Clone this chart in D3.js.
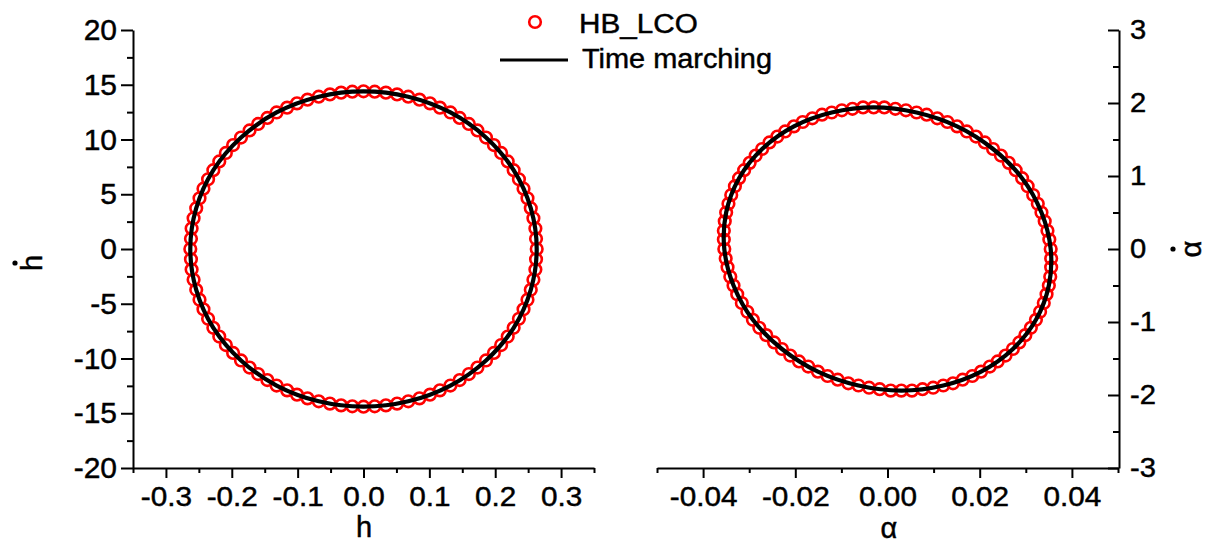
<!DOCTYPE html>
<html>
<head>
<meta charset="utf-8">
<script src="https://cdn.jsdelivr.net/npm/d3@7"></script>
<style>
  body { margin: 0; background: #fff; }
  svg text { font-family: "Liberation Sans", Arial, sans-serif; fill: #000; stroke: #000; stroke-width: 0.45px; }
</style>
</head>
<body>
<div id="chart"></div>
<script>

// HB_LCO points, plunge (h, h-dot)
var hbH = [0.263,0.262,0.261,0.258,0.254,0.249,0.243,0.236,0.228,0.219,0.209,0.198,0.186,0.173,0.160,0.146,0.132,0.116,0.101,0.085,0.068,0.051,0.034,0.017,0.000,
  -0.017,-0.034,-0.051,-0.068,-0.085,-0.101,-0.116,-0.132,-0.146,-0.160,-0.173,-0.186,-0.198,-0.209,-0.219,-0.228,-0.236,-0.243,-0.249,-0.254,-0.258,-0.261,-0.262,-0.263,
  -0.262,-0.261,-0.258,-0.254,-0.249,-0.243,-0.236,-0.228,-0.219,-0.209,-0.198,-0.186,-0.173,-0.160,-0.146,-0.132,-0.116,-0.101,-0.085,-0.068,-0.051,-0.034,-0.017,0.000,
  0.017,0.034,0.051,0.068,0.085,0.101,0.116,0.132,0.146,0.160,0.173,0.186,0.198,0.209,0.219,0.228,0.236,0.243,0.249,0.254,0.258,0.261,0.262];
var hbHdot = [0,0.94,1.88,2.81,3.73,4.63,5.51,6.37,7.20,8.00,8.77,9.49,10.18,10.83,11.42,11.97,12.47,12.91,13.30,13.64,13.91,14.12,14.28,14.37,14.40,
  14.37,14.28,14.12,13.91,13.64,13.30,12.91,12.47,11.97,11.42,10.83,10.18,9.49,8.77,8.00,7.20,6.37,5.51,4.63,3.73,2.81,1.88,0.94,0,
  -0.94,-1.88,-2.81,-3.73,-4.63,-5.51,-6.37,-7.20,-8.00,-8.77,-9.49,-10.18,-10.83,-11.42,-11.97,-12.47,-12.91,-13.30,-13.64,-13.91,-14.12,-14.28,-14.37,-14.40,
  -14.37,-14.28,-14.12,-13.91,-13.64,-13.30,-12.91,-12.47,-11.97,-11.42,-10.83,-10.18,-9.49,-8.77,-8.00,-7.20,-6.37,-5.51,-4.63,-3.73,-2.81,-1.88,-0.94];

// HB_LCO points, pitch (alpha, alpha-dot)
var hbA = [0.0354,0.0351,0.0347,0.0341,0.0334,0.0326,0.0316,0.0304,0.0292,0.0278,0.0263,0.0246,0.0229,0.0211,0.0192,0.0172,0.0151,0.0130,0.0108,0.0085,0.0063,0.0040,0.0017,-0.0007,-0.0030,
  -0.0053,-0.0076,-0.0099,-0.0121,-0.0142,-0.0163,-0.0184,-0.0203,-0.0222,-0.0239,-0.0256,-0.0272,-0.0286,-0.0299,-0.0311,-0.0322,-0.0331,-0.0339,-0.0345,-0.0350,-0.0353,-0.0355,-0.0355,-0.0354,
  -0.0351,-0.0347,-0.0341,-0.0334,-0.0326,-0.0316,-0.0304,-0.0292,-0.0278,-0.0263,-0.0246,-0.0229,-0.0211,-0.0192,-0.0172,-0.0151,-0.0130,-0.0108,-0.0085,-0.0063,-0.0040,-0.0017,0.0007,0.0030,
  0.0053,0.0076,0.0099,0.0121,0.0142,0.0163,0.0184,0.0203,0.0222,0.0239,0.0256,0.0272,0.0286,0.0299,0.0311,0.0322,0.0331,0.0339,0.0345,0.0350,0.0353,0.0355,0.0355];
var hbAdot = [0,0.13,0.25,0.38,0.50,0.62,0.74,0.86,0.97,1.08,1.18,1.28,1.37,1.46,1.54,1.61,1.68,1.74,1.79,1.84,1.87,1.90,1.92,1.94,1.94,
  1.94,1.92,1.90,1.87,1.84,1.79,1.74,1.68,1.61,1.54,1.46,1.37,1.28,1.18,1.08,0.97,0.86,0.74,0.62,0.50,0.38,0.25,0.13,0,
  -0.13,-0.25,-0.38,-0.50,-0.62,-0.74,-0.86,-0.97,-1.08,-1.18,-1.28,-1.37,-1.46,-1.54,-1.61,-1.68,-1.74,-1.79,-1.84,-1.87,-1.90,-1.92,-1.94,-1.94,
  -1.94,-1.92,-1.90,-1.87,-1.84,-1.79,-1.74,-1.68,-1.61,-1.54,-1.46,-1.37,-1.28,-1.18,-1.08,-0.97,-0.86,-0.74,-0.62,-0.50,-0.38,-0.25,-0.13];

// Time marching trajectory
var tmH = [0.263,0.254,0.228,0.186,0.132,0.068,0.000,-0.068,-0.132,-0.186,-0.228,-0.254,-0.263,-0.254,-0.228,-0.186,-0.132,-0.068,0.000,0.068,0.132,0.186,0.228,0.254];
var tmHdot = [0,3.73,7.20,10.18,12.47,13.91,14.40,13.91,12.47,10.18,7.20,3.73,0,-3.73,-7.20,-10.18,-12.47,-13.91,-14.40,-13.91,-12.47,-10.18,-7.20,-3.73];
var tmA = [0.0354,0.0334,0.0292,0.0229,0.0151,0.0063,-0.0030,-0.0121,-0.0203,-0.0272,-0.0322,-0.0350,-0.0354,-0.0334,-0.0292,-0.0229,-0.0151,-0.0063,0.0030,0.0121,0.0203,0.0272,0.0322,0.0350];
var tmAdot = [0,0.50,0.97,1.37,1.68,1.87,1.94,1.87,1.68,1.37,0.97,0.50,0,-0.50,-0.97,-1.37,-1.68,-1.87,-1.94,-1.87,-1.68,-1.37,-0.97,-0.50];

// tick labels
var hTicks = [-0.3, -0.2, -0.1, 0, 0.1, 0.2, 0.3];
var hdotTicks = [-20, -15, -10, -5, 0, 5, 10, 15, 20];
var aTicks = [-0.04, -0.02, 0, 0.02, 0.04];
var adotTicks = [-3, -2, -1, 0, 1, 2, 3];

var svg = d3.select("#chart")
  .append("svg")
  .attr("width", 1214)
  .attr("height", 544);

var xH = d3.scaleLinear().domain([-0.35, 0.35]).range([133, 594]);
var yH = d3.scaleLinear().domain([-20, 20]).range([468, 30]);
var xA = d3.scaleLinear().domain([-0.05, 0.05]).range([657, 1118]);
var yA = d3.scaleLinear().domain([-3, 3]).range([468, 30]);

function styleAxis(g, size) {
  g.selectAll("path, line").attr("stroke", "#000").attr("stroke-width", 2);
  g.selectAll("text").style("font-size", size + "px").attr("fill", "#000");
}

function stretch(sel, k) {
  sel.each(function() {
    var w = this.getComputedTextLength();
    d3.select(this).attr("textLength", w * k).attr("lengthAdjust", "spacingAndGlyphs");
  });
}

function minor(axis, pos) {
  var g = svg.append("g").attr("transform", pos).call(axis.tickFormat("").tickSizeOuter(0));
  g.select(".domain").remove();
  g.selectAll("line").attr("stroke", "#000").attr("stroke-width", 2);
}

// left panel axes
var gyH = svg.append("g")
  .attr("transform", "translate(133,0)")
  .call(d3.axisLeft(yH).tickValues(hdotTicks).tickSize(12).tickSizeOuter(0).tickPadding(4).tickFormat(d => d));
styleAxis(gyH, 30);
minor(d3.axisLeft(yH).tickValues(d3.range(-17.5, 20, 5)).tickSize(6), "translate(133,0)");

var gxH = svg.append("g")
  .attr("transform", "translate(0,468)")
  .call(d3.axisBottom(xH).tickValues(hTicks).tickSize(10).tickSizeOuter(0).tickPadding(9).tickFormat(d => d.toFixed(1)));
styleAxis(gxH, 27);
stretch(gxH.selectAll("text"), 1.1);
minor(d3.axisBottom(xH).tickValues(d3.range(-0.35, 0.36, 0.1)).tickSize(5), "translate(0,468)");

// right panel axes
var gxA = svg.append("g")
  .attr("transform", "translate(0,468)")
  .call(d3.axisBottom(xA).tickValues(aTicks).tickSize(10).tickSizeOuter(0).tickPadding(9).tickFormat(d => d.toFixed(2)));
styleAxis(gxA, 27);
stretch(gxA.selectAll("text"), 1.1);
minor(d3.axisBottom(xA).tickValues(d3.range(-0.05, 0.051, 0.02)).tickSize(5), "translate(0,468)");

var gyA = svg.append("g")
  .attr("transform", "translate(1119,0)")
  .call(d3.axisRight(yA).tickValues(adotTicks).tickSize(-11).tickSizeOuter(0).tickPadding(11).tickFormat(d => d));
styleAxis(gyA, 27);
stretch(gyA.selectAll("text"), 1.08);
minor(d3.axisRight(yA).tickValues(d3.range(-2.5, 3, 1)).tickSize(-6), "translate(1119,0)");

// axis titles
svg.append("text").attr("x", 364).attr("y", 537).attr("text-anchor", "middle")
  .style("font-size", "29px").text("h");
svg.append("text").attr("x", 889).attr("y", 538).attr("text-anchor", "middle")
  .style("font-size", "29px").text("α");

svg.append("text").attr("transform", "translate(42,263) rotate(-90)").attr("text-anchor", "middle")
  .style("font-size", "29px").text("h");
svg.append("circle").attr("cx", 15).attr("cy", 263).attr("r", 2.6).attr("fill", "#000");

svg.append("text").attr("transform", "translate(1201,249) rotate(-90)").attr("text-anchor", "middle")
  .style("font-size", "29px").text("α");
svg.append("circle").attr("cx", 1173).attr("cy", 249).attr("r", 2.6).attr("fill", "#000");

// data
var hbLeft = hbH.map((d, i) => [d, hbHdot[i]]);
var hbRight = hbA.map((d, i) => [d, hbAdot[i]]);
var tmLeft = tmH.map((d, i) => [d, tmHdot[i]]);
var tmRight = tmA.map((d, i) => [d, tmAdot[i]]);

function drawPanel(hb, tm, x, y) {
  svg.append("g")
    .selectAll("circle")
    .data(hb)
    .enter()
    .append("circle")
    .attr("cx", d => x(d[0]))
    .attr("cy", d => y(d[1]))
    .attr("r", 5.8)
    .attr("fill", "none")
    .attr("stroke", "#ff0000")
    .attr("stroke-width", 2.6);

  var line = d3.line()
    .x(d => x(d[0]))
    .y(d => y(d[1]))
    .curve(d3.curveCardinalClosed);

  svg.append("path")
    .datum(tm)
    .attr("d", line)
    .attr("fill", "none")
    .attr("stroke", "#000")
    .attr("stroke-width", 4.2);
}

drawPanel(hbLeft, tmLeft, xH, yH);
drawPanel(hbRight, tmRight, xA, yA);

// legend
svg.append("circle").attr("cx", 535).attr("cy", 22).attr("r", 5.8)
  .attr("fill", "none").attr("stroke", "#ff0000").attr("stroke-width", 2.6);
svg.append("text").attr("x", 579).attr("y", 33).style("font-size", "27px").text("HB_LCO")
  .call(stretch, 1.1);
svg.append("line").attr("x1", 500).attr("x2", 568).attr("y1", 60).attr("y2", 60)
  .attr("stroke", "#000").attr("stroke-width", 3);
svg.append("text").attr("x", 582).attr("y", 68).style("font-size", "27px").text("Time marching")
  .call(stretch, 1.07);

</script>
</body>
</html>
